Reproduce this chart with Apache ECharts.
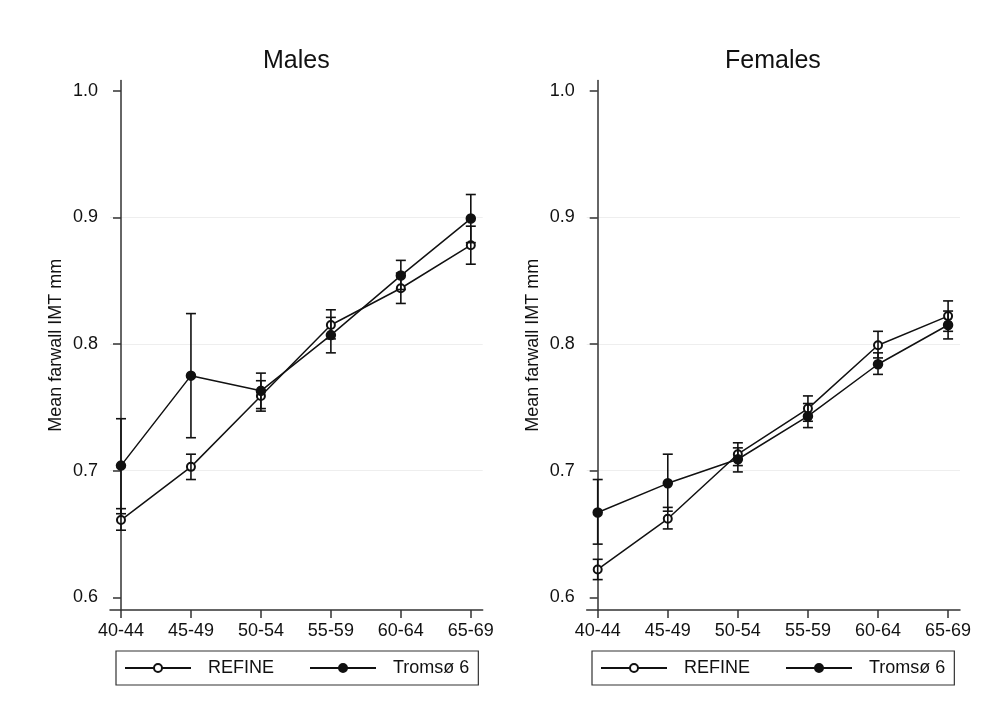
<!DOCTYPE html>
<html>
<head>
<meta charset="utf-8">
<title>Mean farwall IMT by age group</title>
<script src="https://cdn.jsdelivr.net/npm/echarts@6/dist/echarts.min.js"></script>
<style>
  html, body { margin: 0; padding: 0; background: #fff; }
  #main { width: 984px; height: 723px; }
</style>
</head>
<body>
<div id="main"></div>
<script>
// age groups on the x axis
const ageGroups = ['40-44', '45-49', '50-54', '55-59', '60-64', '65-69'];
const yTicks = [0.6, 0.7, 0.8, 0.9, 1.0];

// Males
const malesRefine      = [0.661, 0.703, 0.759, 0.815, 0.844, 0.878];
const malesRefineLow   = [0.653, 0.693, 0.749, 0.804, 0.832, 0.863];
const malesRefineHigh  = [0.670, 0.713, 0.771, 0.827, 0.856, 0.893];
const malesTromso      = [0.704, 0.775, 0.763, 0.807, 0.854, 0.899];
const malesTromsoLow   = [0.666, 0.726, 0.747, 0.793, 0.843, 0.880];
const malesTromsoHigh  = [0.741, 0.824, 0.777, 0.821, 0.866, 0.918];

// Females
const femalesRefine     = [0.622, 0.662, 0.713, 0.749, 0.799, 0.822];
const femalesRefineLow  = [0.614, 0.654, 0.704, 0.739, 0.789, 0.810];
const femalesRefineHigh = [0.630, 0.671, 0.722, 0.759, 0.810, 0.834];
const femalesTromso     = [0.667, 0.690, 0.709, 0.743, 0.784, 0.815];
const femalesTromsoLow  = [0.642, 0.668, 0.699, 0.734, 0.776, 0.804];
const femalesTromsoHigh = [0.693, 0.713, 0.718, 0.753, 0.793, 0.826];

const FONT = '"Liberation Sans", Arial, sans-serif';
const INK = '#111';

const chart = echarts.init(document.getElementById('main'));

function points(vals) {
  return vals.map(function (v, i) { return [i, v]; });
}
function bars(lo, hi) {
  return lo.map(function (v, i) { return [i, v, hi[i]]; });
}

// vertical error bar with caps
function renderBar(params, api) {
  const x = api.value(0);
  const lo = api.coord([x, api.value(1)]);
  const hi = api.coord([x, api.value(2)]);
  const w = 5;
  const style = { stroke: INK, lineWidth: 1.6, fill: null };
  return {
    type: 'group',
    children: [
      { type: 'line', shape: { x1: hi[0], y1: hi[1], x2: lo[0], y2: lo[1] }, style: style },
      { type: 'line', shape: { x1: hi[0] - w, y1: hi[1], x2: hi[0] + w, y2: hi[1] }, style: style },
      { type: 'line', shape: { x1: lo[0] - w, y1: lo[1], x2: lo[0] + w, y2: lo[1] }, style: style }
    ]
  };
}

function xAxis(idx) {
  return {
    type: 'value', gridIndex: idx, min: -0.157, max: 5.17,
    axisLine: { show: true, lineStyle: { color: '#333', width: 1.5 } },
    axisTick: { show: true, length: 8, customValues: [0, 1, 2, 3, 4, 5], lineStyle: { color: '#333', width: 1.5 } },
    axisLabel: {
      customValues: [0, 1, 2, 3, 4, 5], margin: 12,
      fontSize: 18, color: INK, fontFamily: FONT,
      formatter: function (v) { return ageGroups[Math.round(v)]; }
    },
    splitLine: { show: false }
  };
}

function yAxis(idx) {
  return {
    type: 'value', gridIndex: idx, min: 0.59, max: 1.008,
    name: 'Mean farwall IMT mm', nameLocation: 'middle', nameGap: 45, nameRotate: 90,
    nameTextStyle: { fontSize: 18, color: INK, fontFamily: FONT },
    axisLine: { show: true, lineStyle: { color: '#333', width: 1.5 } },
    axisTick: { show: true, length: 8, customValues: yTicks, lineStyle: { color: '#333', width: 1.5 } },
    axisLabel: {
      customValues: yTicks, margin: 12,
      fontSize: 18, color: INK, fontFamily: FONT,
      formatter: function (v) { return v.toFixed(1); }
    },
    splitLine: { show: true, showMinLine: false, showMaxLine: false, lineStyle: { color: '#eeeeee', width: 1 } }
  };
}

function lineSeries(name, idx, vals, filled) {
  return {
    name: name, type: 'line', xAxisIndex: idx, yAxisIndex: idx,
    data: points(vals),
    symbol: filled ? 'circle' : 'emptyCircle',
    symbolSize: filled ? 9 : 8,
    showAllSymbol: true,
    lineStyle: { color: INK, width: 1.5 },
    itemStyle: { color: INK, borderColor: INK, borderWidth: 1.5 },
    z: 2
  };
}

function barSeries(idx, lo, hi) {
  return {
    type: 'custom', xAxisIndex: idx, yAxisIndex: idx,
    renderItem: renderBar,
    encode: { x: 0, y: [1, 2] },
    data: bars(lo, hi),
    z: 3, silent: true
  };
}

function legend(left) {
  return {
    left: left, top: 651, orient: 'horizontal',
    data: ['REFINE', 'Tromsø 6'],
    selectedMode: false,
    itemWidth: 66, itemHeight: 10, itemGap: 35,
    padding: [8, 9, 8, 8],
    borderColor: '#333', borderWidth: 1.2,
    textStyle: { fontSize: 18, color: INK, fontFamily: FONT, padding: [0, 0, 0, 12] }
  };
}

const option = {
  backgroundColor: '#fff',
  animation: false,
  title: [
    { text: 'Males', left: 263, top: 49, padding: 0, textStyle: { fontSize: 25, fontWeight: 'normal', color: INK, fontFamily: FONT } },
    { text: 'Females', left: 725, top: 49, padding: 0, textStyle: { fontSize: 25, fontWeight: 'normal', color: INK, fontFamily: FONT } }
  ],
  legend: [legend(116), legend(592)],
  grid: [
    { left: 110, top: 80.5, width: 372.7, height: 529.5 },
    { left: 586.7, top: 80.5, width: 373.3, height: 529.5 }
  ],
  xAxis: [xAxis(0), xAxis(1)],
  yAxis: [yAxis(0), yAxis(1)],
  series: [
    lineSeries('REFINE', 0, malesRefine, false),
    lineSeries('Tromsø 6', 0, malesTromso, true),
    barSeries(0, malesRefineLow, malesRefineHigh),
    barSeries(0, malesTromsoLow, malesTromsoHigh),
    lineSeries('REFINE', 1, femalesRefine, false),
    lineSeries('Tromsø 6', 1, femalesTromso, true),
    barSeries(1, femalesRefineLow, femalesRefineHigh),
    barSeries(1, femalesTromsoLow, femalesTromsoHigh)
  ]
};

chart.setOption(option);
</script>
</body>
</html>
